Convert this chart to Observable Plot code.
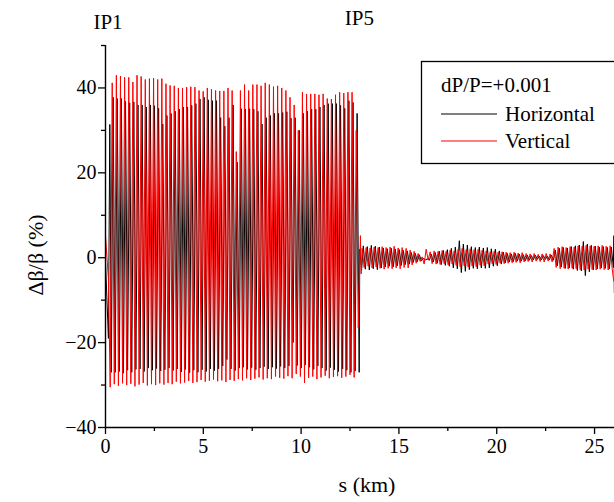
<!DOCTYPE html>
<html><head><meta charset="utf-8">
<script src="https://cdn.jsdelivr.net/npm/d3@7"></script>
<script src="https://cdn.jsdelivr.net/npm/@observablehq/plot@0.6"></script>
<style>
body{margin:0;background:#fff}
#chart{position:relative;width:614px;height:502px}
</style>
</head><body><div id="chart"></div>
<script>
const FONT = "Liberation Serif, Times New Roman, serif";

// ---- data (s in km, Δβ/β in %) ----
// main region (IP1 -> IP5): one peak and one trough per oscillation
const redPeaksMain = [41.2,43.0,42.8,42.5,42.5,41.4,43.0,42.7,42.0,42.2,42.3,42.0,42.2,
  41.0,40.6,40.5,40.0,40.0,40.2,40.3,40.2,39.4,39.2,40.0,39.7,39.4,39.3,39.3,40.0,
  39.4,25.0,39.4,40.8,39.4,40.8,40.8,40.5,41.2,40.8,40.3,40.5,40.0,39.4,37.8,
  36.0,30.0,39.0,38.6,38.6,38.6,38.4,38.6,37.5,37.4,38.4,39.0,38.8,39.0,39.0,30.0];
const redTroughsMain = [-29.8,-30.2,-29.6,-30.0,-29.7,-30.3,-29.9,-29.5,-30.1,-29.8,-30.0,-29.6,-29.9,
  -29.5,-29.8,-29.2,-29.6,-29.4,-29.0,-29.5,-29.3,-28.8,-29.2,-29.0,-28.7,-29.1,-28.9,-29.3,-28.8,
  -29.0,-28.6,-28.9,-28.4,-28.8,-28.5,-28.2,-28.7,-28.4,-28.6,-28.0,-28.3,-28.5,-27.9,-28.4,
  -27.4,-28.0,-29.5,-28.3,-28.0,-28.6,-28.2,-27.8,-28.4,-28.1,-27.9,-28.3,-28.0,-27.6,-28.2,-16.5];
const blackPeaksMain = [37.8,37.5,37.5,36.8,36.5,36.7,36.0,36.0,35.5,36.0,35.8,35.2,31.5,
  33.5,34.0,34.5,35.0,35.5,35.5,35.9,36.3,37.4,37.8,37.2,37.0,37.0,33.0,31.0,33.0,
  36.0,22.5,35.1,35.0,35.1,35.0,34.5,31.5,33.0,33.5,34.0,34.0,34.2,34.4,32.9,
  33.0,30.0,34.0,34.5,35.0,35.0,35.5,36.0,36.3,36.3,36.3,35.9,35.2,37.0,36.6,34.0];
const blackTroughsMain = [-27.0,-26.8,-27.2,-26.5,-27.0,-26.3,-26.2,-26.8,-26.0,-26.5,-26.1,-26.7,-26.4,
  -26.0,-26.6,-26.2,-26.9,-26.3,-27.1,-26.5,-27.0,-26.4,-26.8,-26.2,-26.6,-26.2,-25.5,-24.0,-26.2,
  -26.6,-26.0,-25.8,-26.3,-25.9,-26.4,-26.0,-25.7,-26.2,-25.8,-26.1,-25.6,-26.0,-25.5,-20.0,
  -25.4,-26.0,-25.2,-25.8,-26.3,-25.5,-26.0,-26.6,-25.9,-26.4,-26.8,-26.2,-26.5,-27.0,-26.7,-27.0];

// region after IP5
const redPeaksSmall = [2.2,2.4,2.3,2.5,2.4, 2.6,2.4,2.5,2.7,2.3,2.4,2.2, 1.8,1.5,1.0, 0.2,2.0,
  1.4,1.6,1.5,1.7,1.5,1.8,1.6, 2.0,2.2,1.9, 2.1,1.9,2.0,1.8, 1.6,1.4,1.5,1.3,1.4,
  1.3,1.2,1.3,1.1,1.2, 1.0,0.9,1.0,0.8,0.9,1.0,0.9, 2.2,2.5,2.6,2.4,2.6,2.5,
  2.8,2.7,2.9,2.8,2.7, 2.8,2.9,2.7,2.8];
const redTroughsSmall = [-2.3,-2.0,-2.4,-2.2,-2.5, -2.7,-2.5,-2.6,-2.4,-2.6,-2.3,-2.4, -1.7,-1.3,-0.9, -1.5,-0.5,
  -1.4,-1.5,-1.6,-1.4,-1.7,-1.5,-1.8, -2.1,-1.9,-2.2, -2.0,-2.1,-1.8,-1.9, -1.5,-1.4,-1.6,-1.3,-1.4,
  -1.3,-1.2,-1.1,-1.2,-1.0, -0.9,-1.0,-0.8,-0.9,-1.0,-0.8,-1.0, -2.3,-2.6,-2.5,-2.7,-2.5,-2.6,
  -2.8,-2.9,-2.7,-2.8,-2.9, -2.7,-2.8,-2.9,-2.6];
const blackPeaksSmall = [2.8,2.6,2.9,2.7,2.5, 2.3,2.1,2.2,2.0,1.9,1.7,1.6, 1.2,1.0,0.7, -0.2,-0.3,
  0.8,1.2,1.5,1.7,1.9,2.2,2.5, 4.0,3.2,3.0, 2.6,2.4,2.5,2.3, 2.4,2.1,2.0,1.6,1.3,
  1.0,0.9,1.0,0.8,0.7, 0.6,0.5,0.6,0.4,0.5,0.4,0.6, 1.8,2.2,2.4,2.3,2.6,2.8,
  3.0,3.8,3.2,2.9,2.7, 2.5,2.6,2.4,2.5];
const blackTroughsSmall = [-2.7,-2.9,-2.6,-2.8,-2.4, -2.2,-2.0,-2.1,-1.9,-1.8,-1.6,-1.5, -1.1,-0.9,-0.7, -0.5,-0.6,
  -1.0,-1.3,-1.6,-1.8,-2.0,-2.4,-2.6, -3.5,-3.2,-2.8, -2.5,-2.6,-2.4,-2.5, -2.4,-2.0,-1.9,-1.5,-1.2,
  -1.0,-0.9,-0.8,-0.8,-0.7, -0.6,-0.5,-0.4,-0.5,-0.4,-0.5,-0.6, -1.9,-2.2,-2.5,-2.4,-2.7,-3.0,
  -3.1,-4.2,-3.3,-2.8,-2.6, -2.4,-2.5,-2.6,-2.3];

// isolated points [s, value]
const redLead = [[0,5.2],[0.15,-5.0],[0.24,-30.5]];
const redJoin = [[13.03,5.2],[13.07,-3.8]];
const redTail = [[25.98,-5.5]];
const blackLead = [[0,-1.0],[0.15,-19.0],[0.22,31.4],[0.30,-27.0]];
const blackJoin = [[13.0,2.0],[13.09,-3.0]];
const blackTail = [[25.99,5.2],[26.01,-8.2]];

// sampling of the oscillations (km)
const mainStartRed = 0.343, mainStartBlack = 0.39, mainPeriod = 0.2114;
const smallStartRed = 13.12, smallStartBlack = 13.18, smallPeriod = 0.2045;

const ipLabels = ["IP1","IP5"];
const ipS = [0.13, 12.98];

const xMajor = [0,5,10,15,20,25], xMinor = [2.5,7.5,12.5,17.5,22.5];
const yMajor = [-40,-20,0,20,40], yMinor = [-30,-10,10,30,50];

const legendTitle = "dP/P=+0.001";
const seriesNames = ["Horizontal","Vertical"];
const seriesColors = ["#000000","#ff0000"];

// ---- build rows ----
function pts(list){ return list.map(([s,v])=>({s,v})); }
function grid(peaks, troughs, start, period){
  const out = [];
  peaks.forEach((p,i)=>{
    out.push({s:start+i*period, v:p});
    out.push({s:start+i*period+period/2, v:troughs[i]});
  });
  return out;
}
const redRows = [...pts(redLead), ...grid(redPeaksMain, redTroughsMain, mainStartRed, mainPeriod),
  ...pts(redJoin), ...grid(redPeaksSmall, redTroughsSmall, smallStartRed, smallPeriod), ...pts(redTail)];
const blackRows = [...pts(blackLead), ...grid(blackPeaksMain, blackTroughsMain, mainStartBlack, mainPeriod),
  ...pts(blackJoin), ...grid(blackPeaksSmall, blackTroughsSmall, smallStartBlack, smallPeriod), ...pts(blackTail)];

const fmt = d => d < 0 ? "\u2212" + Math.abs(d) : String(d);

const plot = Plot.plot({
  width: 614, height: 502,
  marginLeft: 105, marginRight: 0, marginTop: 45, marginBottom: 75,
  x: {domain: [0, 26.02]},
  y: {domain: [-40, 50]},
  style: {fontFamily: FONT, background: "#fff", color: "#000", overflow: "visible"},
  marks: [
    Plot.line(blackRows, {x: "s", y: "v", stroke: seriesColors[0], strokeWidth: 1, clip: true}),
    Plot.line(redRows, {x: "s", y: "v", stroke: seriesColors[1], strokeWidth: 1, clip: true}),
    Plot.ruleX([0], {stroke: "#000", strokeWidth: 1.4}),
    Plot.ruleY([-40], {stroke: "#000", strokeWidth: 1.4}),
    Plot.axisX({ticks: xMajor, tickSize: 7, tickPadding: 4, fontSize: 20, label: null, strokeWidth: 1.3, tickFormat: fmt}),
    Plot.axisX({ticks: xMinor, tickSize: 4, tickFormat: () => "", label: null, strokeWidth: 1.3}),
    Plot.axisY({ticks: yMajor, tickSize: 7, tickPadding: 2, fontSize: 20, label: null, strokeWidth: 1.3, tickFormat: fmt}),
    Plot.axisY({ticks: yMinor, tickSize: 4, tickFormat: () => "", label: null, strokeWidth: 1.3}),
    Plot.text([ipLabels[0]], {x: () => ipS[0], text: d => d, frameAnchor: "top", lineAnchor: "bottom", dy: -17, fontSize: 21, clip: false}),
    Plot.text([ipLabels[1]], {x: () => ipS[1], text: d => d, frameAnchor: "top", lineAnchor: "bottom", dy: -21, fontSize: 21, clip: false})
  ]
});

const svg = d3.select(plot);
// axis titles
svg.append("text").attr("x", 367).attr("y", 492).attr("text-anchor", "middle")
  .attr("font-size", 22).attr("fill", "#000").text("s (km)");
svg.append("text").attr("transform", "translate(43,255) rotate(-90)").attr("text-anchor", "middle")
  .attr("font-size", 22).attr("fill", "#000").text("\u0394\u03B2/\u03B2 (%)");
// legend
const lg = svg.append("g").attr("font-size", 21).attr("fill", "#000").attr("text-anchor", "start");
lg.append("rect").attr("x", 421.5).attr("y", 61.5).attr("width", 200).attr("height", 102)
  .attr("fill", "#fff").attr("stroke", "#000").attr("stroke-width", 1.3);
lg.append("text").attr("x", 441).attr("y", 92).attr("text-anchor", "start").text(legendTitle);
seriesNames.forEach((name, i) => {
  const y = 114 + i * 27;
  lg.append("line").attr("x1", 441).attr("x2", 497).attr("y1", y).attr("y2", y)
    .attr("stroke", seriesColors[i]).attr("stroke-width", 1.2);
  lg.append("text").attr("x", 505).attr("y", y + 6.5).attr("text-anchor", "start").text(name);
});
// force the serif face on every text node
svg.selectAll("text").style("font-family", FONT);

document.getElementById("chart").appendChild(plot);
</script>
</body></html>
